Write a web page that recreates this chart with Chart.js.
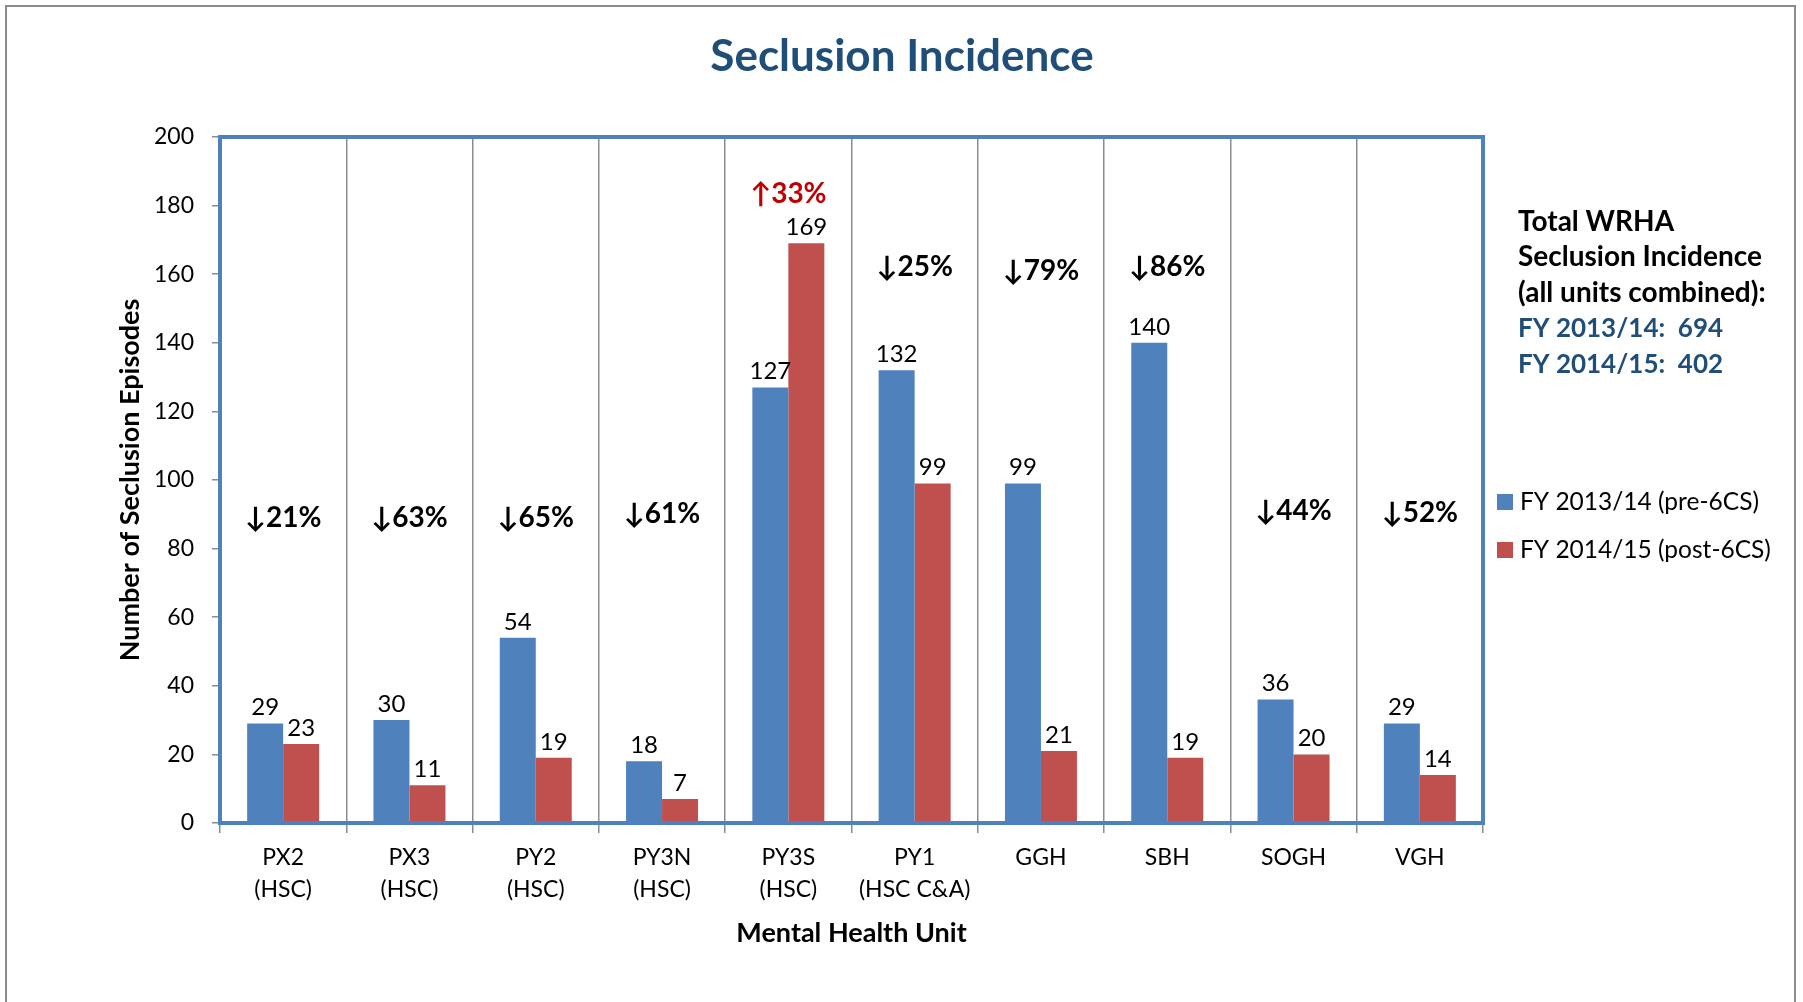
<!DOCTYPE html>
<html>
<head>
<meta charset="utf-8">
<script src="https://cdn.jsdelivr.net/npm/chart.js@4.4.1/dist/chart.umd.min.js"></script>
<style>
  html, body { margin: 0; padding: 0; background: #fff; overflow: hidden; }
  canvas { display: block; }
</style>
</head>
<body>
<canvas id="seclusionCanvas" width="1803" height="1002"></canvas>
<script>
// units (x axis), two lines each
var units = [
    ['PX2', '(HSC)'], ['PX3', '(HSC)'], ['PY2', '(HSC)'], ['PY3N', '(HSC)'], ['PY3S', '(HSC)'],
    ['PY1', '(HSC C&A)'], 'GGH', 'SBH', 'SOGH', 'VGH'
];
var fy1314 = [29, 30, 54, 18, 127, 132, 99, 140, 36, 29];
var fy1415 = [23, 11, 19, 7, 169, 99, 21, 19, 20, 14];
// change labels and the value height they sit at
var changeText = ['↓21%', '↓63%', '↓65%', '↓61%', '↑33%', '↓25%', '↓79%', '↓86%', '↓44%', '↓52%'];
var changeAt = [89, 89, 89, 90, 183.5, 162, 161, 162, 91, 90.5];
var yTicks = [0, 20, 40, 60, 80, 100, 120, 140, 160, 180, 200];

var FONT = 'Lato, "DejaVu Sans", sans-serif';
var blue = '#4F81BD', red = '#C0504D', navy = '#1F4E79';

function sum(arr) { return arr.reduce(function (a, b) { return a + b; }, 0); }

var frame = {
    id: 'frame',
    beforeDraw: function (chart) {
        var ctx = chart.ctx;
        ctx.save();
        ctx.fillStyle = '#fff';
        ctx.fillRect(0, 0, chart.width, chart.height);
        ctx.strokeStyle = '#8c8c8c';
        ctx.lineWidth = 2;
        ctx.strokeRect(6, 6, 1789, 1020);
        // title, centred on the whole frame
        ctx.font = 'bold 44px ' + FONT;
        ctx.fillStyle = navy;
        ctx.textAlign = 'center';
        ctx.textBaseline = 'middle';
        ctx.fillText('Seclusion Incidence', 902, 57);
        ctx.restore();
    },
    afterDraw: function (chart) {
        var ctx = chart.ctx, a = chart.chartArea;
        ctx.save();
        // plot border
        ctx.strokeStyle = blue;
        ctx.lineWidth = 4;
        ctx.strokeRect(a.left, a.top, a.right - a.left, a.bottom - a.top);

        // value labels
        ctx.font = '24px ' + FONT;
        ctx.fillStyle = '#000';
        ctx.textAlign = 'center';
        ctx.textBaseline = 'middle';
        chart.data.datasets.forEach(function (ds, di) {
            chart.getDatasetMeta(di).data.forEach(function (bar, i) {
                ctx.fillText(String(ds.data[i]), bar.x, bar.y - 16);
            });
        });

        // change labels
        ctx.font = 'bold 28px ' + FONT;
        changeText.forEach(function (t, i) {
            ctx.fillStyle = t.charAt(0) === '↑' ? '#C00000' : '#000';
            ctx.fillText(t, chart.scales.x.getPixelForValue(i), chart.scales.y.getPixelForValue(changeAt[i]));
        });

        // totals block
        var x0 = 1518;
        ctx.textAlign = 'left';
        ctx.font = 'bold 28px ' + FONT;
        ctx.fillStyle = '#000';
        ctx.fillText('Total WRHA', x0, 222);
        ctx.fillText('Seclusion Incidence', x0, 257);
        ctx.fillText('(all units combined):', x0, 293);
        ctx.font = 'bold 26px ' + FONT;
        ctx.fillStyle = navy;
        ctx.fillText('FY 2013/14:  ' + sum(fy1314), x0, 329);
        ctx.fillText('FY 2014/15:  ' + sum(fy1415), x0, 365);

        // legend
        ctx.font = '24.5px ' + FONT;
        chart.data.datasets.forEach(function (ds, di) {
            var cy = 502 + di * 48;
            ctx.fillStyle = ds.backgroundColor;
            ctx.fillRect(1497, cy - 8, 16, 16);
            ctx.fillStyle = '#000';
            ctx.fillText(ds.label, 1520, cy);
        });
        ctx.restore();
    }
};

new Chart(document.getElementById('seclusionCanvas'), {
    type: 'bar',
    data: {
        labels: units,
        datasets: [
            { label: 'FY 2013/14 (pre-6CS)', data: fy1314, backgroundColor: blue },
            { label: 'FY 2014/15 (post-6CS)', data: fy1415, backgroundColor: red }
        ]
    },
    options: {
        responsive: false,
        animation: false,
        devicePixelRatio: 1,
        layout: { padding: { top: 137, left: 100, right: 320, bottom: 39 } },
        datasets: { bar: { categoryPercentage: 0.57, barPercentage: 1.0 } },
        plugins: {
            legend: { display: false },
            tooltip: { enabled: false },
            title: { display: false }
        },
        scales: {
            x: {
                grid: { display: true, offset: true, color: '#8c8c8c', lineWidth: 1.5, tickLength: 10 },
                border: { display: false },
                ticks: { color: '#000', font: { family: FONT, size: 23, lineHeight: 1.4 }, padding: 8, maxRotation: 0 },
                title: {
                    display: true, text: 'Mental Health Unit', color: '#000',
                    font: { family: FONT, size: 27, weight: 'bold', lineHeight: 1.2 },
                    padding: { top: 0, bottom: 14 }
                },
                afterFit: function (scale) { scale.height = 140; }
            },
            y: {
                min: 0, max: 200,
                afterBuildTicks: function (scale) { scale.ticks = yTicks.map(function (v) { return { value: v }; }); },
                grid: { drawOnChartArea: false, drawTicks: true, tickLength: 8, color: '#8c8c8c', lineWidth: 1.5 },
                border: { display: false },
                ticks: { color: '#000', font: { family: FONT, size: 23 }, padding: 18 },
                title: {
                    display: true, text: 'Number of Seclusion Episodes', color: '#000',
                    font: { family: FONT, size: 27, weight: 'bold', lineHeight: 1.2 },
                    padding: { top: 14, bottom: 0 }
                },
                afterFit: function (scale) { scale.width = 120; }
            }
        }
    },
    plugins: [frame]
});
</script>
</body>
</html>
